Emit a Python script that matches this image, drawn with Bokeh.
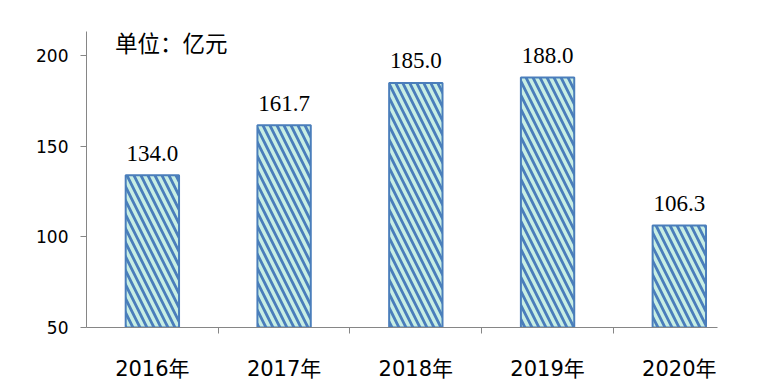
from bokeh.plotting import figure
from bokeh.models import Range1d, FixedTicker, Label, ColumnDataSource
from bokeh.core.properties import value
from bokeh.embed import file_html
from bokeh.resources import INLINE

categories = ["2016年", "2017年", "2018年", "2019年", "2020年"]
values = [134.0, 161.7, 185.0, 188.0, 106.3]
y_ticks = [50, 100, 150, 200]
unit_text = "单位：亿元"

centers = [i + 0.5 for i in range(len(categories))]
boundaries = [i for i in range(1, len(categories))]

BLUE = "#4a7ebb"
MINT = "#c8eee4"
AXIS = "#868686"

p = figure(width=768, height=383, output_backend="svg", toolbar_location=None,
           x_range=Range1d(0, 4.79), y_range=Range1d(50, 213.4),
           min_border_left=86, min_border_top=31, min_border_bottom=53, min_border_right=51)
p.outline_line_color = None
p.xgrid.visible = False
p.ygrid.visible = False
p.background_fill_color = "white"

src = ColumnDataSource(dict(x=centers, top=values, label=["%.1f" % v for v in values]))
p.vbar(x="x", top="top", bottom=50, width=0.405, source=src,
       fill_color=MINT, line_color=BLUE, line_width=2,
       hatch_pattern="\\", hatch_color=BLUE, hatch_scale=14, hatch_weight=2.8)

p.text(x="x", y="top", text="label", source=src, text_align="center", text_baseline="alphabetic",
       y_offset=-22, text_font=value("Liberation Serif"), text_font_size="23px", text_color="#000000")

# y axis
ya = p.yaxis[0]
ya.ticker = FixedTicker(ticks=y_ticks)
ya.axis_line_color = AXIS
ya.major_tick_line_color = AXIS
ya.major_tick_out = 6
ya.major_tick_in = 0
ya.minor_tick_line_color = None
ya.major_label_text_font = "DejaVu Sans"
ya.major_label_text_font_size = "17px"
ya.major_label_text_color = "#000000"
ya.major_label_standoff = 12

# x axis: labels at category centers, tick marks at category boundaries
xa = p.xaxis[0]
xa.ticker = FixedTicker(ticks=centers, minor_ticks=boundaries)
xa.major_label_overrides = {c: cat for c, cat in zip(centers, categories)}
xa.axis_line_color = AXIS
xa.major_tick_line_color = None
xa.major_tick_out = 6
xa.major_tick_in = 0
xa.minor_tick_line_color = AXIS
xa.minor_tick_out = 6
xa.minor_tick_in = 0
xa.major_label_text_font = "DejaVu Sans, Noto Sans CJK SC"
xa.major_label_text_font_size = "21px"
xa.major_label_text_color = "#000000"
xa.major_label_standoff = 23

p.add_layout(Label(x=0.217, y=207.6, text=unit_text, text_baseline="middle", text_align="left",
                   text_font="Noto Sans CJK SC", text_font_size="22.5px", text_color="#000000"))

open("out.html", "w").write(file_html(p, INLINE))
